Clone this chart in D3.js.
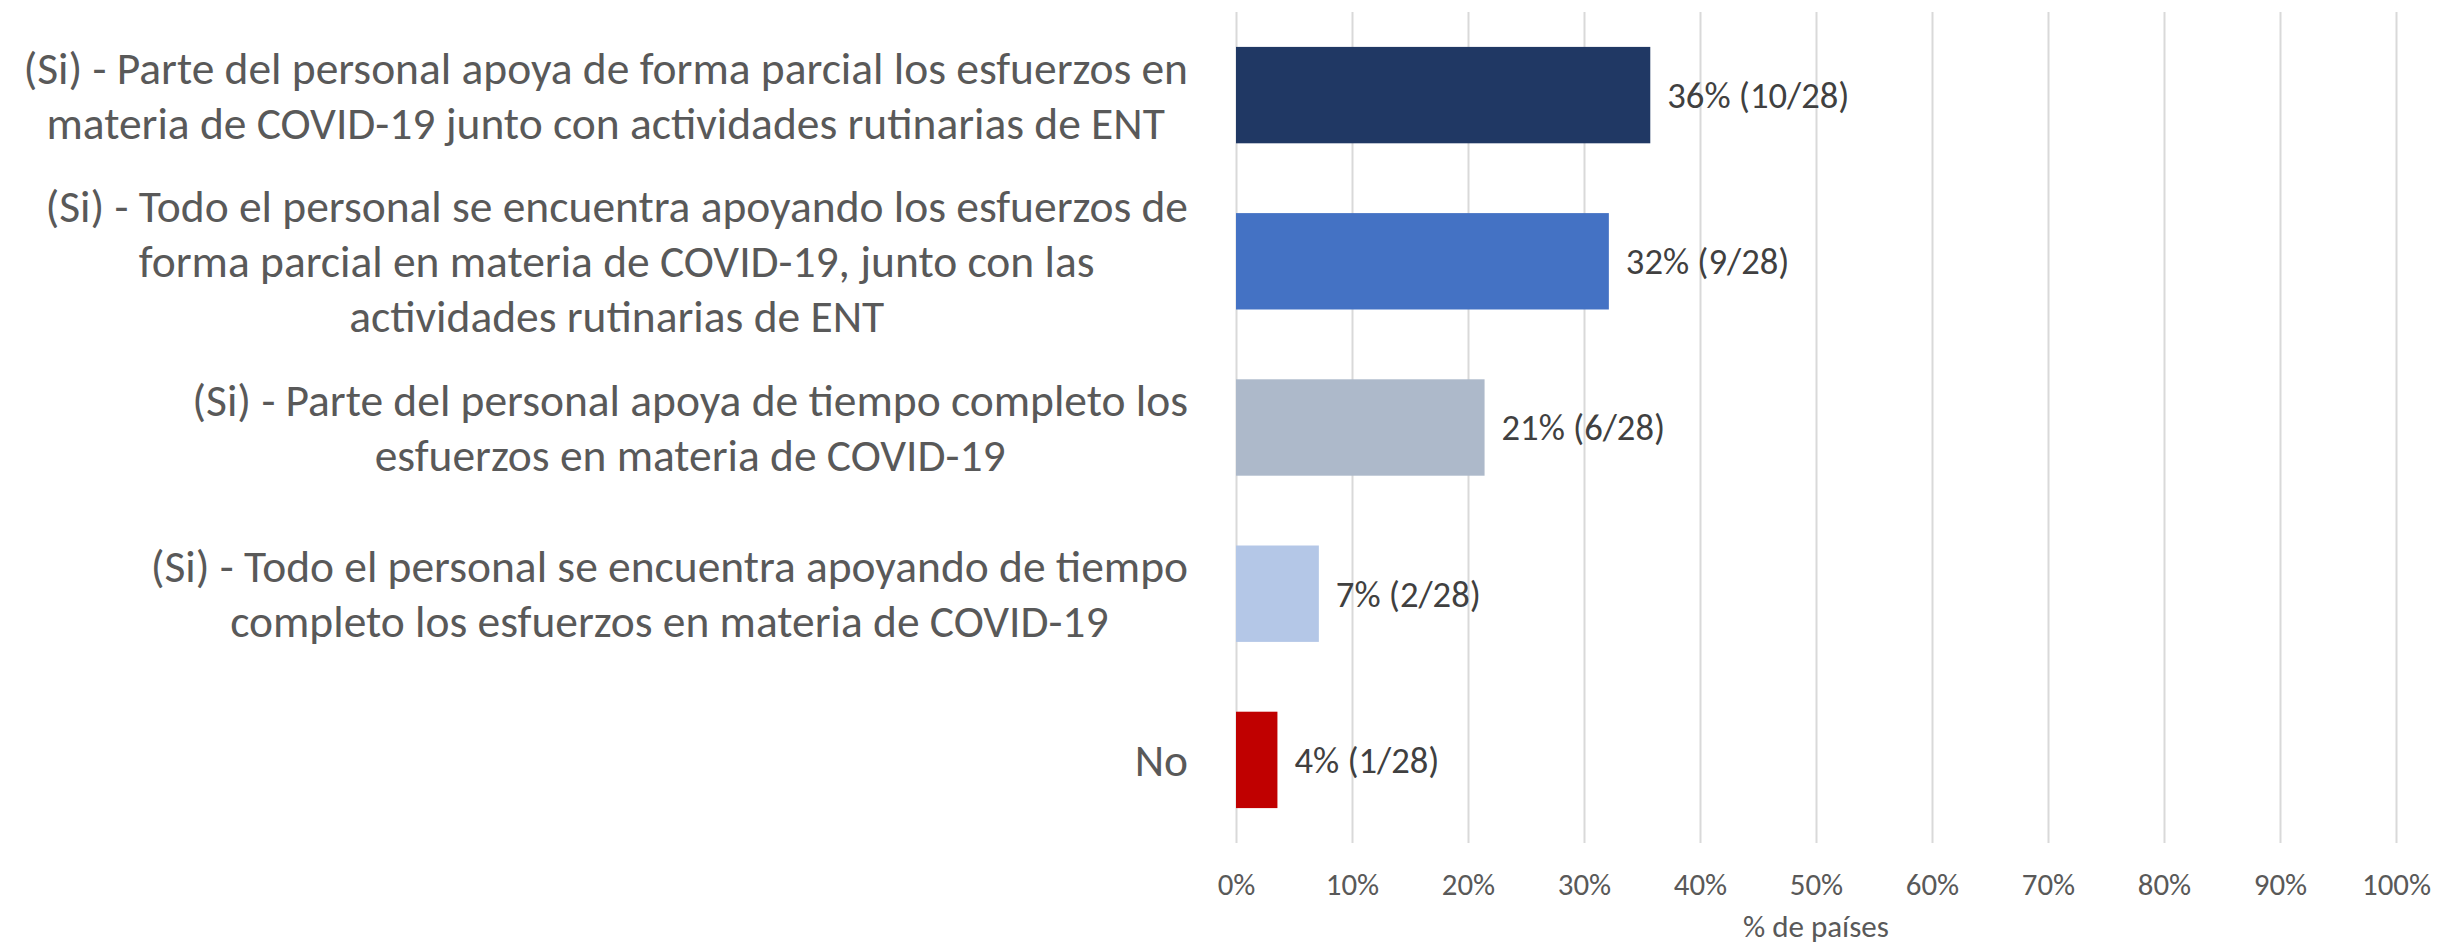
<!DOCTYPE html>
<html>
<head>
<meta charset="utf-8">
<script src="https://cdn.jsdelivr.net/npm/d3@7"></script>
<style>
  body { margin: 0; background: #fff; }
  text { font-family: Calibri, Carlito, "Liberation Sans Narrow", "DejaVu Sans Condensed", "Liberation Sans", sans-serif; }
</style>
</head>
<body>
<div id="chart"></div>
<script>
//chart data
const categories = [
    "(Si) - Parte del personal apoya de forma parcial los esfuerzos en\nmateria de COVID-19 junto con actividades rutinarias de ENT",
    "(Si) - Todo el personal se encuentra apoyando los esfuerzos de\nforma parcial en materia de COVID-19, junto con las\nactividades rutinarias de ENT",
    "(Si) - Parte del personal apoya de tiempo completo los\nesfuerzos en materia de COVID-19",
    "(Si) - Todo el personal se encuentra apoyando de tiempo\ncompleto los esfuerzos en materia de COVID-19",
    "No"
];
const counts = [10, 9, 6, 2, 1];
const total = 28;
const barColors = ["#203864", "#4472C4", "#ADB9CA", "#B4C7E7", "#C00000"];
const tickValues = [0, 0.1, 0.2, 0.3, 0.4, 0.5, 0.6, 0.7, 0.8, 0.9, 1];
const axisTitle = "% de países";

const data = categories.map((c, i) => ({ cat: c, n: counts[i], value: counts[i] / total, color: barColors[i] }));

//svg
const W = 2441, H = 947;
const plot = { left: 1236, right: 2396, top: 12, bottom: 843 };

const svg = d3.select("#chart")
    .append("svg")
    .attr("width", W)
    .attr("height", H);

//size a font so a sample string has the width seen in the picture
function fitFont(sample, target) {
    const t = svg.append("text").style("font-size", "100px").text(sample);
    const len = t.node().getComputedTextLength();
    t.remove();
    return 100 * target / len;
}
const catSize = fitFont("(Si) - Parte del personal apoya de forma parcial los esfuerzos en", 1165);
const valSize = fitFont("7% (2/28)", 145);
const tickSize = fitFont("100%", 69);
const titleSize = fitFont("% de países", 146);

//scales
const x = d3.scaleLinear()
    .domain([0, 1])
    .range([plot.left, plot.right]);

const y = d3.scaleBand()
    .domain(categories)
    .range([plot.top, plot.bottom])
    .paddingInner(0.42)
    .paddingOuter(0.21);

//x axis with gridlines
const xAxis = svg.append("g")
    .attr("transform", `translate(0,${plot.bottom})`)
    .call(d3.axisBottom(x)
        .tickValues(tickValues)
        .tickFormat(d3.format(".0%"))
        .tickSize(-(plot.bottom - plot.top)));
xAxis.select(".domain").remove();
xAxis.selectAll(".tick line")
    .attr("stroke", "#D9D9D9")
    .attr("stroke-width", 2);
xAxis.selectAll(".tick text")
    .attr("y", 41)
    .attr("dy", "0.35em")
    .attr("fill", "#595959")
    .style("font-size", tickSize + "px");

//axis title
svg.append("text")
    .attr("x", (plot.left + plot.right) / 2)
    .attr("y", 926)
    .attr("dy", "0.35em")
    .attr("text-anchor", "middle")
    .attr("fill", "#595959")
    .style("font-size", titleSize + "px")
    .text(axisTitle);

//bars
svg.append("g")
    .selectAll("rect")
    .data(data)
    .enter().append("rect")
    .attr("x", x(0))
    .attr("y", d => y(d.cat))
    .attr("width", d => x(d.value) - x(0))
    .attr("height", y.bandwidth())
    .attr("fill", d => d.color);

//data labels
svg.append("g")
    .selectAll("text")
    .data(data)
    .enter().append("text")
    .attr("x", d => x(d.value) + 17)
    .attr("y", d => y(d.cat) + y.bandwidth() / 2)
    .attr("dy", "0.35em")
    .attr("fill", "#404040")
    .style("font-size", valSize + "px")
    .text(d => `${d3.format(".0%")(d.value)} (${d.n}/${total})`);

//category labels: centred lines, block right-aligned next to the axis
const lineH = 55;
const labelRight = 1188;
categories.forEach(c => {
    const lines = c.split("\n");
    const g = svg.append("g");
    const texts = lines.map((l, i) => g.append("text")
        .attr("y", y(c) + y.bandwidth() / 2 + (i - (lines.length - 1) / 2) * lineH)
        .attr("dy", "0.35em")
        .attr("text-anchor", "middle")
        .attr("fill", "#595959")
        .style("font-size", catSize + "px")
        .text(l));
    const maxW = d3.max(texts, t => t.node().getComputedTextLength());
    texts.forEach(t => t.attr("x", labelRight - maxW / 2));
});
</script>
</body>
</html>
